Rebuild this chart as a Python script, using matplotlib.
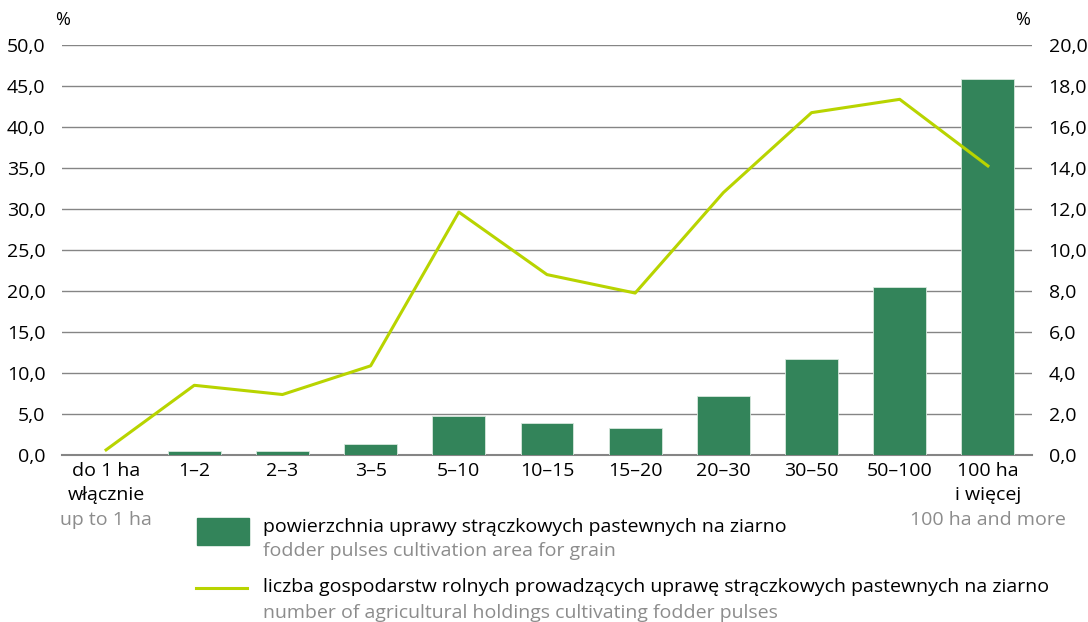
import matplotlib
matplotlib.use("Agg")
import matplotlib.pyplot as plt

plt.rcParams["font.family"] = ["Open Sans", "DejaVu Sans"]

CATEGORIES = ["do 1 ha\nwłącznie", "1–2", "2–3", "3–5", "5–10", "10–15",
              "15–20", "20–30", "30–50", "50–100", "100 ha\ni więcej"]
AREA = [0.0, 0.5, 0.5, 1.35, 4.75, 3.9, 3.3, 7.2, 11.7, 20.5, 45.9]
HOLDINGS = [0.25, 3.4, 2.95, 4.35, 11.85, 8.8, 7.9, 12.8, 16.7, 17.35, 14.1]
LEFT_TICKS = [0, 5, 10, 15, 20, 25, 30, 35, 40, 45, 50]
RIGHT_TICKS = [0, 2, 4, 6, 8, 10, 12, 14, 16, 18, 20]

BAR = "#33845a"
LINE = "#b8d400"
GRID = "#858585"
SUB = "#8c8c8c"

W, H = 1088, 622
FS = 14


def fx(px):
    return px / W


def fy(py):
    return 1 - py / H


def main():
    fig = plt.figure(figsize=(W / 100, H / 100), dpi=100)
    ax = fig.add_axes([fx(62), fy(455), fx(1032) - fx(62), fy(45) - fy(455)])
    ax2 = ax.twinx()

    x = list(range(len(CATEGORIES)))
    ax.set_ylim(0, 50)
    ax.set_xlim(-0.5, len(CATEGORIES) - 0.5)
    ax.set_yticks(LEFT_TICKS)
    ax.set_yticklabels([f"{v:.1f}".replace(".", ",") for v in LEFT_TICKS])
    ax.yaxis.grid(True, color=GRID, lw=1)
    ax.set_axisbelow(True)
    ax.bar(x, AREA, width=0.6, color=BAR, edgecolor="#d8e8de", lw=0.6, zorder=3)

    ax2.set_ylim(0, 20)
    ax2.set_yticks(RIGHT_TICKS)
    ax2.set_yticklabels([f"{v:.1f}".replace(".", ",") for v in RIGHT_TICKS])
    ax2.plot(x, HOLDINGS, color=LINE, lw=2.2, zorder=4)

    for a in (ax, ax2):
        for s in a.spines.values():
            s.set_visible(False)
        a.tick_params(length=0, labelsize=FS, pad=12)
    ax.spines["bottom"].set_visible(True)
    ax.spines["bottom"].set_color(GRID)
    ax.spines["bottom"].set_linewidth(1.5)

    ax.set_xticks(x)
    ax.set_xticklabels(CATEGORIES, linespacing=1.4)
    ax.tick_params(axis="x", pad=5)

    # grey english sublabels under first/last category
    trans = ax.get_xaxis_transform()
    y_sub = (455 - 520) / (455 - 45)
    ax.text(0, y_sub, "up to 1 ha", transform=trans, fontsize=FS,
            color=SUB, ha="center", va="center")
    ax.text(10, y_sub, "100 ha and more", transform=trans, fontsize=FS,
            color=SUB, ha="center", va="center")

    fig.text(fx(63), fy(20), "%", fontsize=13, ha="center", va="center")
    fig.text(fx(1023), fy(20), "%", fontsize=13, ha="center", va="center")

    # legend drawn by hand
    fig.patches.append(plt.Rectangle((fx(197), fy(545)), fx(52), fy(518) - fy(545),
                                     transform=fig.transFigure, color=BAR))
    fig.lines.append(plt.Line2D([fx(196), fx(247)], [fy(588), fy(588)],
                                transform=fig.transFigure, color=LINE, lw=2.2))
    fig.text(fx(263), fy(527), "powierzchnia uprawy strączkowych pastewnych na ziarno",
             fontsize=FS, va="center")
    fig.text(fx(263), fy(551), "fodder pulses cultivation area for grain",
             fontsize=FS, va="center", color=SUB)
    fig.text(fx(263), fy(587),
             "liczba gospodarstw rolnych prowadzących uprawę strączkowych pastewnych na ziarno",
             fontsize=FS, va="center")
    fig.text(fx(263), fy(613), "number of agricultural holdings cultivating fodder pulses",
             fontsize=FS, va="center", color=SUB)

    fig.savefig("out.png", dpi=100)


if __name__ == "__main__":
    main()
